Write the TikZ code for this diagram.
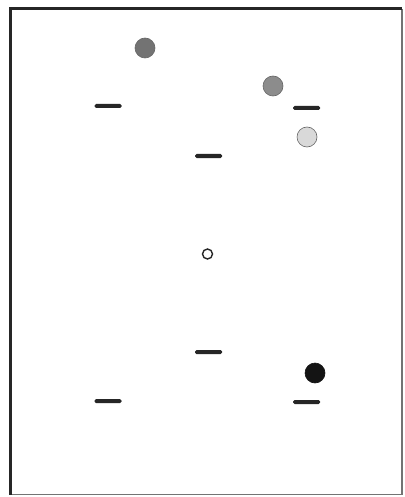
\documentclass[tikz,border=0pt]{standalone}
\begin{document}
\begin{tikzpicture}[x=1pt,y=-1pt,
  bar/.style={rectangle,fill=black!85,inner sep=0pt,minimum width=27pt,minimum height=4pt,rounded corners=1.5pt},
  dot/.style={circle,inner sep=0pt,minimum size=20pt,draw=black!60,line width=0.6pt}]
\useasboundingbox (0,0) rectangle (404,497);
\fill[white] (0,0) rectangle (404,497);
% frame
\draw[black!55,line width=1.5pt] (402,9) -- (402,494.5) -- (10,494.5);
\draw[black!85,line width=3pt] (10.5,494.5) -- (10.5,9) -- (402,9);
% circles
\node[dot,fill=black!55] (c1) at (145,48) {};
\node[dot,fill=black!45] (c2) at (273,86) {};
\node[dot,fill=black!15] (c3) at (307,137) {};
\node[circle,inner sep=0pt,minimum size=10pt,draw=black!85,line width=1.4pt,fill=white] (c4) at (207.5,254) {};
\node[dot,fill=black!92,draw=black!92] (c5) at (315,373) {};
% bars
\node[bar] (b1) at (108,106) {};
\node[bar] (b2) at (306.5,108) {};
\node[bar] (b3) at (208.5,156) {};
\node[bar] (b4) at (208.5,352) {};
\node[bar] (b5) at (108,401) {};
\node[bar] (b6) at (306.5,402) {};
\end{tikzpicture}
\end{document}
